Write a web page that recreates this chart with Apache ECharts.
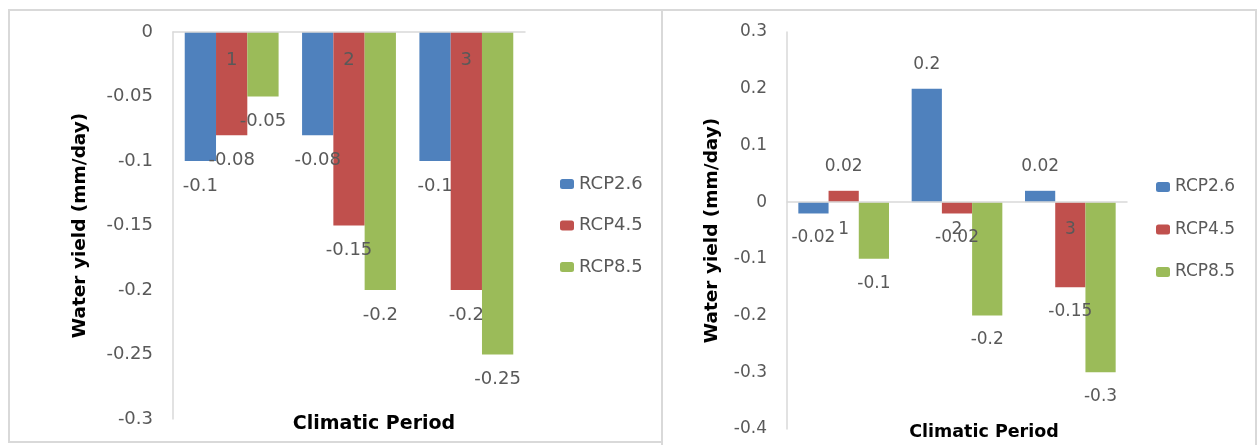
<!DOCTYPE html>
<html>
<head>
<meta charset="utf-8">
<script src="https://cdn.jsdelivr.net/npm/echarts@6/dist/echarts.min.js"></script>
<style>
html,body{margin:0;padding:0;background:#fff;}
#c{width:1260px;height:445px;}
</style>
</head>
<body>
<div id="c"></div>
<script>
// ---- data ----
const categories = ['1', '2', '3'];
const seriesNames = ['RCP2.6', 'RCP4.5', 'RCP8.5'];
const leftRCP26 = [-0.1, -0.08, -0.1];
const leftRCP45 = [-0.08, -0.15, -0.2];
const leftRCP85 = [-0.05, -0.2, -0.25];
const rightRCP26 = [-0.02, 0.2, 0.02];
const rightRCP45 = [0.02, -0.02, -0.15];
const rightRCP85 = [-0.1, -0.2, -0.3];
const leftTicks = {min: -0.3, max: 0, interval: 0.05};
const rightTicks = {min: -0.4, max: 0.3, interval: 0.1};
const yTitle = 'Water yield (mm/day)';
const xTitle = 'Climatic Period';

// ---- styles ----
const colors = ['#4F81BD', '#C0504D', '#9BBB59'];
const gray = '#595959';
const lineGray = '#d9d9d9';
const FONT = 'DejaVu Sans';

const grids = [
  {left: 173, top: 32, width: 352, height: 387},
  {left: 787, top: 32, width: 340, height: 397}
];

const chart = echarts.init(document.getElementById('c'), null, {renderer: 'canvas'});
const fmt = v => String(+(+v).toFixed(2));

function makeSeries(name, data, idx, gridIdx, fs) {
  return {
    name: name, type: 'bar', data: data,
    xAxisIndex: gridIdx, yAxisIndex: gridIdx,
    barGap: '0%', barCategoryGap: '20%',
    itemStyle: {color: colors[idx]},
    label: {show: true, position: 'outside', distance: 16,
            color: gray, fontFamily: FONT, fontSize: fs,
            formatter: p => fmt(p.value)},
    emphasis: {disabled: true}
  };
}

const leftData = [leftRCP26, leftRCP45, leftRCP85];
const rightData = [rightRCP26, rightRCP45, rightRCP85];
const series = [];
seriesNames.forEach((n, i) => series.push(makeSeries(n, leftData[i], i, 0, 18)));
seriesNames.forEach((n, i) => series.push(makeSeries(n, rightData[i], i, 1, 17)));

// x axis drawn at the value-axis zero line, labels just below it
function xAxis(gi, fs, t) {
  const g = grids[gi];
  const zeroFromBottom = g.height * (0 - t.min) / (t.max - t.min);
  return {
    type: 'category', data: categories, gridIndex: gi, z: 10,
    position: 'bottom', offset: -zeroFromBottom,
    axisLine: {show: true, onZero: false, lineStyle: {color: lineGray, width: 1.5}},
    axisTick: {show: false},
    axisLabel: {color: gray, fontFamily: FONT, fontSize: fs, margin: 19}
  };
}
function yAxis(gi, t, fs, gap) {
  return {
    type: 'value', gridIndex: gi, min: t.min, max: t.max, interval: t.interval,
    name: yTitle, nameLocation: 'middle', nameGap: gap, nameRotate: 90,
    nameTextStyle: {color: '#000', fontFamily: FONT, fontWeight: 'bold', fontSize: 18.5},
    axisLine: {show: true, lineStyle: {color: lineGray, width: 1.5}},
    axisTick: {show: false},
    splitLine: {show: false},
    axisLabel: {color: gray, fontFamily: FONT, fontSize: fs, margin: 20, formatter: fmt}
  };
}

const option = {
  animation: false,
  grid: grids.map(g => Object.assign({containLabel: false, outerBoundsMode: 'none'}, g)),
  xAxis: [xAxis(0, 18, leftTicks), xAxis(1, 17, rightTicks)],
  yAxis: [yAxis(0, leftTicks, 18, 83), yAxis(1, rightTicks, 17, 65)],
  legend: [
    {data: seriesNames, orient: 'vertical', left: 560, top: 174, padding: 0,
     itemWidth: 14, itemHeight: 10, itemGap: 21.5, selectedMode: false,
     textStyle: {color: gray, fontFamily: FONT, fontSize: 18, lineHeight: 20}},
    {data: seriesNames, orient: 'vertical', left: 1156, top: 177, padding: 0,
     itemWidth: 14, itemHeight: 10, itemGap: 22.5, selectedMode: false,
     textStyle: {color: gray, fontFamily: FONT, fontSize: 17, lineHeight: 20}}
  ],
  graphic: [
    {type: 'rect', shape: {x: 9, y: 10, width: 653, height: 432}, silent: true,
     style: {fill: 'none', stroke: lineGray, lineWidth: 2}},
    {type: 'rect', shape: {x: 662, y: 10, width: 594, height: 445}, silent: true,
     style: {fill: 'none', stroke: lineGray, lineWidth: 2}},
    {type: 'text', x: 374, y: 424, silent: true,
     style: {text: xTitle, fill: '#000', font: 'bold 19px "DejaVu Sans"', align: 'center', verticalAlign: 'middle'}},
    {type: 'text', x: 984, y: 432, silent: true,
     style: {text: xTitle, fill: '#000', font: 'bold 17.5px "DejaVu Sans"', align: 'center', verticalAlign: 'middle'}}
  ],
  series: series
};
chart.setOption(option);
</script>
</body>
</html>
